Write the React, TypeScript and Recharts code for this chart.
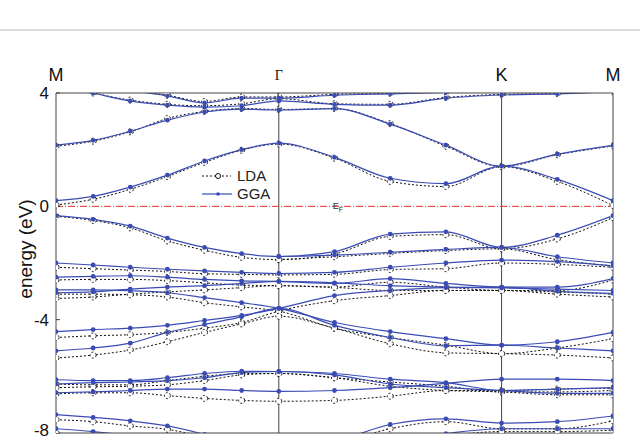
import React from 'react';
import { LineChart, Line, XAxis, YAxis, ReferenceLine } from 'recharts';

// k-path coordinate (M -> Γ -> K -> M)
const kPath = [0, 0.0667, 0.1333, 0.2, 0.2667, 0.3333, 0.4, 0.5, 0.6, 0.7, 0.8, 0.9, 1.0];
const symPoints = [0, 0.4, 0.8, 1.0];
const symLabels = ['M', 'Γ', 'K', 'M'];
const energyTicks = [-8, -4, 0, 4];

// conduction bands
const ggaC4 = [4.6, 4.4, 4.1, 3.9, 3.65, 3.82, 3.82, 3.92, 3.97, 4.02, 4.06, 4.1, 4.15];
const ldaC4 = [4.6, 4.4, 4.12, 3.92, 3.7, 3.86, 3.86, 3.95, 3.99, 4.04, 4.08, 4.1, 4.15];
const ggaC3 = [4.3, 4.0, 3.72, 3.57, 3.5, 3.55, 3.72, 3.6, 3.57, 3.82, 3.93, 3.97, 4.05];
const ldaC3 = [4.3, 4.0, 3.75, 3.6, 3.55, 3.62, 3.8, 3.62, 3.6, 3.84, 3.95, 3.98, 4.05];
const ggaC2 = [2.16, 2.33, 2.65, 3.04, 3.33, 3.43, 3.4, 3.45, 2.9, 2.16, 1.42, 1.84, 2.15];
const ldaC2 = [2.12, 2.3, 2.63, 3.1, 3.35, 3.45, 3.42, 3.45, 2.92, 2.12, 1.4, 1.82, 2.13];
const ggaC1 = [0.2, 0.35, 0.68, 1.1, 1.6, 2.0, 2.23, 1.73, 0.99, 0.8, 1.42, 0.95, 0.2];
const ldaC1 = [0.05, 0.25, 0.6, 1.05, 1.55, 1.98, 2.2, 1.7, 0.88, 0.7, 1.4, 0.88, 0.03];

// valence bands
const ggaV1 = [-0.33, -0.46, -0.7, -1.12, -1.45, -1.67, -1.77, -1.6, -0.98, -0.9, -1.45, -1.02, -0.33];
const ldaV1 = [-0.35, -0.5, -0.76, -1.22, -1.55, -1.8, -1.88, -1.68, -1.06, -1.0, -1.5, -1.15, -0.4];
const ggaV1b = [null, null, null, null, null, null, -1.77, -1.72, -1.62, -1.52, -1.45, -1.78, -2.0];
const ldaV1b = [null, null, null, null, null, null, -1.88, -1.78, -1.66, -1.56, -1.5, -1.88, -2.1];
const ggaVa = [-2.0, -2.07, -2.15, -2.22, -2.28, -2.33, -2.37, -2.33, -2.15, -2.0, -1.9, -1.95, -2.1];
const ldaVa = [-2.15, -2.2, -2.25, -2.3, -2.38, -2.4, -2.42, -2.4, -2.23, -2.2, -2.0, -2.05, -2.15];
const ggaVb = [-2.5, -2.47, -2.45, -2.5, -2.58, -2.63, -2.65, -2.72, -2.55, -2.72, -2.85, -2.85, -2.55];
const ldaVb = [-2.6, -2.58, -2.58, -2.62, -2.7, -2.78, -2.8, -2.85, -2.68, -2.85, -2.97, -2.97, -2.6];
const ggaVd = [-3.05, -3.02, -2.92, -2.85, -2.8, -2.72, -2.65, -2.7, -2.8, -2.85, -2.88, -2.92, -2.97];
const ldaVd = [-3.25, -3.2, -3.1, -3.02, -2.95, -2.87, -2.8, -2.86, -2.97, -2.97, -2.97, -3.02, -3.1];
const ggaVc = [-2.95, -2.95, -2.98, -3.05, -3.22, -3.4, -3.6, -4.1, -4.42, -4.67, -4.9, -4.78, -4.45];
const ldaVc = [-3.1, -3.1, -3.12, -3.2, -3.4, -3.55, -3.7, -4.3, -4.63, -4.9, -5.2, -5.0, -4.67];
const ggaVe = [-4.42, -4.35, -4.3, -4.2, -4.03, -3.85, -3.6, -3.15, -2.97, -2.87, -2.85, -3.0, -3.07];
const ldaVe = [-4.63, -4.57, -4.53, -4.45, -4.3, -4.1, -3.7, -3.33, -3.15, -2.97, -2.97, -3.1, -3.2];
const ggaVf = [-5.1, -5.0, -4.83, -4.45, -4.17, -3.9, -3.6, -4.2, -4.63, -4.92, -4.9, -5.0, -5.1];
const ldaVf = [-5.35, -5.25, -5.07, -4.78, -4.45, -4.15, -3.88, -4.3, -4.85, -5.17, -5.2, -5.25, -5.35];
const ggaVh = [-6.12, -6.15, -6.15, -6.05, -5.9, -5.82, -5.83, -5.9, -6.1, -6.22, -6.5, -6.45, -6.4];
const ldaVh = [-6.27, -6.3, -6.3, -6.15, -6.0, -5.9, -5.9, -6.05, -6.2, -6.35, -6.55, -6.55, -6.5];
const ggaVi = [-6.27, -6.22, -6.2, -6.15, -6.05, -5.87, -5.83, -5.95, -6.27, -6.4, -6.5, -6.6, -6.6];
const ldaVi = [-6.4, -6.37, -6.35, -6.3, -6.15, -5.95, -5.9, -6.05, -6.35, -6.5, -6.55, -6.65, -6.65];
const ggaVj = [-6.58, -6.55, -6.5, -6.45, -6.45, -6.5, -6.53, -6.5, -6.4, -6.25, -6.1, -6.1, -6.15];
const ldaVj = [-6.62, -6.58, -6.58, -6.68, -6.78, -6.85, -6.88, -6.85, -6.7, -6.5, -6.5, -6.45, -6.42];
const ggaVk = [-7.35, -7.45, -7.57, -7.75, -8.05, -8.4, -8.6, -8.3, -7.7, -7.5, -7.65, -7.6, -7.4];
const ldaVk = [-7.53, -7.6, -7.75, -7.87, -8.15, -8.5, -8.7, -8.4, -7.85, -7.6, -7.85, -7.85, -7.57];
const ggaVl = [-7.85, -7.95, -8.1, -8.3, -8.5, -8.7, -8.8, -8.6, -8.3, -8.02, -7.85, -7.85, -7.85];
const ldaVl = [-8.0, -8.1, -8.25, -8.4, -8.6, -8.8, -8.9, -8.7, -8.4, -8.1, -7.95, -7.95, -7.9];

type Band = { id: string; gga: (number | null)[]; lda: (number | null)[] };
const bands: Band[] = [
  { id: 'c4', gga: ggaC4, lda: ldaC4 },
  { id: 'c3', gga: ggaC3, lda: ldaC3 },
  { id: 'c2', gga: ggaC2, lda: ldaC2 },
  { id: 'c1', gga: ggaC1, lda: ldaC1 },
  { id: 'v1', gga: ggaV1, lda: ldaV1 },
  { id: 'v1b', gga: ggaV1b, lda: ldaV1b },
  { id: 'va', gga: ggaVa, lda: ldaVa },
  { id: 'vb', gga: ggaVb, lda: ldaVb },
  { id: 'vd', gga: ggaVd, lda: ldaVd },
  { id: 'vc', gga: ggaVc, lda: ldaVc },
  { id: 've', gga: ggaVe, lda: ldaVe },
  { id: 'vf', gga: ggaVf, lda: ldaVf },
  { id: 'vh', gga: ggaVh, lda: ldaVh },
  { id: 'vi', gga: ggaVi, lda: ldaVi },
  { id: 'vj', gga: ggaVj, lda: ldaVj },
  { id: 'vk', gga: ggaVk, lda: ldaVk },
  { id: 'vl', gga: ggaVl, lda: ldaVl },
];

const rows = kPath.map((k, i) => {
  const row: Record<string, number | null> = { k };
  bands.forEach((b) => {
    row['g_' + b.id] = b.gga[i];
    row['l_' + b.id] = b.lda[i];
  });
  return row;
});

const BLUE = '#3a4cb4';
const FRAME = '#444';
const FONT = '"Liberation Sans", Arial, sans-serif';

const TopTick = (props: any) => {
  const { x, y, payload } = props;
  const idx = symPoints.indexOf(payload.value);
  const label = symLabels[idx];
  const isGamma = label === 'Γ';
  return (
    <text
      x={x}
      y={isGamma ? y - 1 : y}
      textAnchor="middle"
      fontFamily={isGamma ? '"Liberation Serif", "Times New Roman", serif' : FONT}
      fontSize={isGamma ? 14 : 18}
      fill="#111"
    >
      {label}
    </text>
  );
};

const LeftTick = (props: any) => {
  const { x, y, payload } = props;
  return (
    <text x={x} y={Math.min(y + 6, 436)} textAnchor="end" fontFamily={FONT} fontSize={17} fill="#111">
      {payload.value}
    </text>
  );
};

const FermiLabel = (props: any) => {
  const { viewBox } = props;
  if (!viewBox) return null;
  const x = viewBox.x + viewBox.width * 0.497;
  const y = viewBox.y + 3;
  return (
    <text x={x} y={y} fontFamily={FONT} fontSize={9} fill="#333">
      E
      <tspan dy={3} fontSize={7}>
        F
      </tspan>
    </text>
  );
};

export default function App() {
  return (
    <div
      style={{
        position: 'absolute',
        left: 0,
        top: 0,
        width: 640,
        height: 440,
        background: '#fff',
        overflow: 'hidden',
      }}
    >
      <div style={{ position: 'absolute', left: 0, top: 29, width: 640, height: 2, background: '#dcdcdc' }} />
      <LineChart
        width={640}
        height={440}
        data={rows}
        margin={{ top: 63, right: 27, bottom: 0, left: 0 }}
      >
        <XAxis
          dataKey="k"
          type="number"
          domain={[0, 1]}
          allowDataOverflow
          ticks={symPoints}
          tick={false}
          tickLine={false}
          height={7}
          axisLine={{ stroke: FRAME }}
        />
        <XAxis
          xAxisId="top"
          dataKey="k"
          type="number"
          orientation="top"
          domain={[0, 1]}
          ticks={symPoints}
          interval={0}
          tick={<TopTick />}
          tickLine={false}
          tickSize={0}
          tickMargin={12}
          height={30}
          axisLine={{ stroke: FRAME }}
        />
        <YAxis
          type="number"
          domain={[-8, 4]}
          allowDataOverflow
          ticks={energyTicks}
          interval={0}
          width={56}
          tickSize={-4}
          tickMargin={11}
          tickLine={{ stroke: FRAME }}
          axisLine={{ stroke: FRAME }}
          tick={<LeftTick />}
        />
        <ReferenceLine x={0.4} stroke={FRAME} strokeWidth={1} />
        <ReferenceLine x={0.8} stroke={FRAME} strokeWidth={1} />
        <ReferenceLine x={1} stroke={FRAME} strokeWidth={1} />
        <ReferenceLine
          y={0}
          stroke="#e0302a"
          strokeWidth={1}
          strokeDasharray="7 2 1 2"
          label={<FermiLabel />}
        />
        {bands.map((b) => (
          <Line
            key={'l_' + b.id}
            dataKey={'l_' + b.id}
            type="monotone"
            stroke="#111"
            strokeWidth={1}
            strokeDasharray="2 2"
            dot={{ r: 3, fill: '#fff', stroke: '#111', strokeWidth: 1 }}
            activeDot={false}
            isAnimationActive={false}
          />
        ))}
        {bands.map((b) => (
          <Line
            key={'g_' + b.id}
            dataKey={'g_' + b.id}
            type="monotone"
            stroke={BLUE}
            strokeWidth={1.2}
            dot={{ r: 2.4, fill: BLUE, stroke: BLUE, strokeWidth: 0 }}
            activeDot={false}
            isAnimationActive={false}
          />
        ))}
      </LineChart>
      <div
        style={{
          position: 'absolute',
          left: 26,
          top: 249,
          transform: 'translate(-50%, -50%) rotate(-90deg)',
          whiteSpace: 'nowrap',
          fontFamily: FONT,
          fontSize: 19,
          color: '#111',
        }}
      >
        energy (eV)
      </div>
      <div
        style={{
          position: 'absolute',
          left: 200,
          top: 167,
          fontFamily: FONT,
          fontSize: 15,
          color: '#222',
          lineHeight: '18px',
        }}
      >
        <div style={{ display: 'flex', alignItems: 'center', height: 18 }}>
          <svg width={37} height={18}>
            <line x1={2} y1={9} x2={31} y2={9} stroke="#111" strokeDasharray="2 2" />
            <circle cx={18} cy={9} r={2.5} fill="#fff" stroke="#111" />
          </svg>
          <span>LDA</span>
        </div>
        <div style={{ display: 'flex', alignItems: 'center', height: 18 }}>
          <svg width={37} height={18}>
            <line x1={2} y1={9} x2={32} y2={9} stroke={BLUE} strokeWidth={1.2} />
            <circle cx={18} cy={9} r={1.8} fill={BLUE} />
          </svg>
          <span>GGA</span>
        </div>
      </div>
    </div>
  );
}
